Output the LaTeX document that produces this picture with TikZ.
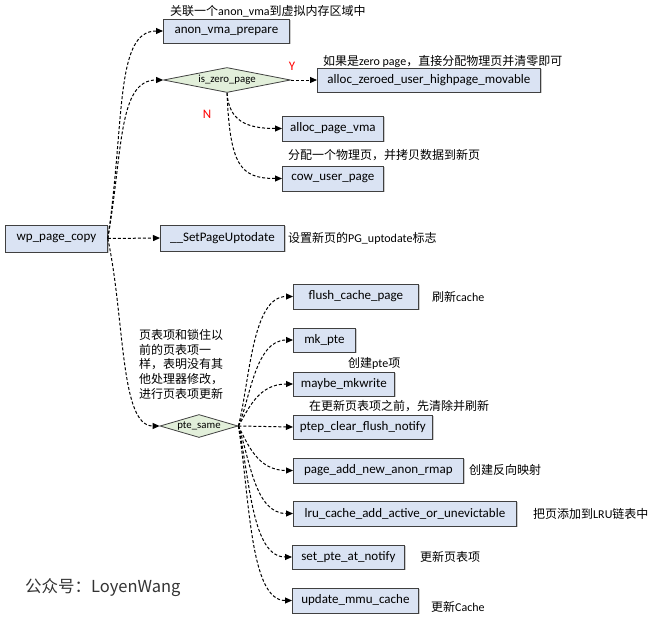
\documentclass[tikz,border=0pt]{standalone}
\usepackage{fontspec}
\setmainfont{Carlito}
\newfontfamily\cjk{Noto Sans CJK SC}
\usetikzlibrary{arrows.meta,shapes.geometric,shadows}
\newcommand\zh[1]{{\cjk #1}}
\definecolor{boxfill}{RGB}{218,227,243}
\definecolor{dmdfill}{RGB}{226,239,218}
\definecolor{edge}{RGB}{64,64,64}
\definecolor{redlab}{RGB}{255,0,0}
\definecolor{wm}{RGB}{51,51,51}
\begin{document}
\begin{tikzpicture}[x=1pt,y=-1pt,
  font=\fontsize{12}{14}\selectfont,
  fbox/.style={draw=edge, fill=boxfill, line width=0.8pt, minimum height=25,
    inner sep=0pt, anchor=west, font=\fontsize{13}{15}\selectfont,
    drop shadow={shadow xshift=1.2pt,shadow yshift=-1.2pt,opacity=0.2,fill=black}},
  dmd/.style={diamond, draw=edge, fill=dmdfill, line width=0.8pt,
    inner xsep=-6pt, inner ysep=-4pt,
    aspect=4, font=\fontsize{10.8}{12}\selectfont},
  conn/.style={dash pattern=on 3pt off 2pt, line width=1pt, black,
    -{Triangle[length=7pt,width=6pt]}},
  lab/.style={anchor=west, inner sep=0pt},
  ynlab/.style={text=redlab, inner sep=0pt, font=\fontsize{13}{15}\selectfont},
]
\useasboundingbox (0,0) rectangle (655,621);

% boxes
\node[fbox, minimum width=102, minimum height=27] (wp) at (5,238.5) {wp\_page\_copy};
\node[fbox, minimum width=126, minimum height=24] (anon) at (163,31) {anon\_vma\_prepare};
\node[dmd, minimum width=127, minimum height=25] (iszero) at (227,80) {is\_zero\_page};
\node[fbox, minimum width=223, minimum height=24] (azero) at (317,80) {alloc\_zeroed\_user\_highpage\_movable};
\node[fbox, minimum width=101] (apv) at (282,128.5) {alloc\_page\_vma};
\node[fbox, minimum width=101] (cow) at (282,178.5) {cow\_user\_page};
\node[fbox, minimum width=124, minimum height=26] (setpu) at (160,238) {\_\_SetPageUptodate};
\node[fbox, minimum width=125] (flush) at (293,296.5) {flush\_cache\_page};
\node[fbox, minimum width=62, minimum height=24] (mkpte) at (293,340) {mk\_pte};
\node[fbox, minimum width=101, minimum height=24] (maybe) at (293,384) {maybe\_mkwrite};
\node[fbox, minimum width=139, minimum height=24] (ptep) at (293,427) {ptep\_clear\_flush\_notify};
\node[dmd, minimum width=78, minimum height=23] (ptesame) at (199,426) {pte\_same};
\node[fbox, minimum width=170] (padd) at (293,470.5) {page\_add\_new\_anon\_rmap};
\node[fbox, minimum width=223] (lru) at (293,513.5) {lru\_cache\_add\_active\_or\_unevictable};
\node[fbox, minimum width=112, minimum height=24] (setpte) at (292,557) {set\_pte\_at\_notify};
\node[fbox, minimum width=126] (upd) at (292,600.5) {update\_mmu\_cache};

% labels
\node[lab] (l1) at (170,11) {\zh{关联一个}anon\_vma\zh{到虚拟内存区域中}};
\node[lab] (l2) at (323,61) {\zh{如果是}zero page\zh{，直接分配物理页并清零即可}};
\node[lab] (l3) at (288,155) {\zh{分配一个物理页，并拷贝数据到新页}};
\node[lab] (l4) at (288,238) {\zh{设置新页的}PG\_uptodate\zh{标志}};
\node[lab] (l5) at (432,297) {\zh{刷新}cache};
\node[lab] (l6) at (348,363) {\zh{创建}pte\zh{项}};
\node[lab] (l7) at (309,406) {\zh{在更新页表项之前，先清除并刷新}};
\node[lab] (l8) at (469,470) {\zh{创建反向映射}};
\node[lab] (l9) at (533,514) {\zh{把页添加到}LRU\zh{链表中}};
\node[lab] (l10) at (420,557) {\zh{更新页表项}};
\node[lab] (l11) at (431,607) {\zh{更新}Cache};
\node[ynlab] (ylab) at (292,66) {Y};
\node[ynlab] (nlab) at (207,114) {N};
\node[anchor=north west, inner sep=0pt, align=left,
  font=\cjk\fontsize{12}{14.8}\selectfont] (note) at (139,329)
  {页表项和锁住以\\前的页表项一\\样，表明没有其\\他处理器修改，\\进行页表项更新};
\node[anchor=west, inner sep=0pt, text=wm, font=\cjk\fontsize{16.5}{18}\selectfont] (wmk) at (25,588)
  {公众号：LoyenWang};

% connectors from wp_page_copy
\draw[conn] (wp.east) .. controls (125,120) and (115,31) .. (anon.west);
\draw[conn] (wp.east) .. controls (123,150) and (118,80) .. (iszero.west);
\draw[conn] (wp.east) -- (setpu.west);
\draw[conn] (wp.east) .. controls (125,320) and (120,426) .. (ptesame.west);

% is_zero_page
\draw[conn] (iszero.east) -- (azero.west);
\draw[conn] (iszero.south) .. controls (229,120) and (245,128.5) .. (apv.west);
\draw[conn] (iszero.south) .. controls (230,165) and (240,178.5) .. (cow.west);

% pte_same
\draw[conn] (ptesame.east) .. controls (250,380) and (252,296.5) .. (flush.west);
\draw[conn] (ptesame.east) .. controls (250,400) and (255,340) .. (mkpte.west);
\draw[conn] (ptesame.east) .. controls (248,410) and (258,384) .. (maybe.west);
\draw[conn] (ptesame.east) -- (ptep.west);
\draw[conn] (ptesame.east) .. controls (248,445) and (258,470.5) .. (padd.west);
\draw[conn] (ptesame.east) .. controls (250,460) and (255,513.5) .. (lru.west);
\draw[conn] (ptesame.east) .. controls (250,480) and (252,557) .. (setpte.west);
\draw[conn] (ptesame.east) .. controls (250,500) and (250,600.5) .. (upd.west);
\end{tikzpicture}
\end{document}
